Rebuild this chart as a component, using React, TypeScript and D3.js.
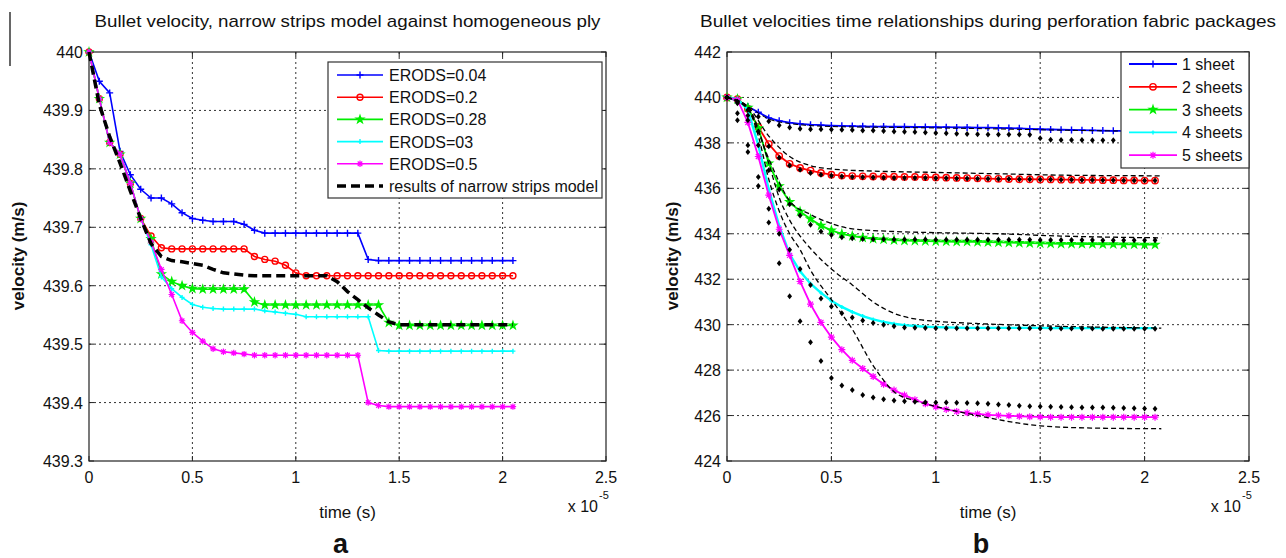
import React from "react";
import * as d3 from "d3";

const FONT = "Arial, 'Liberation Sans', Helvetica, sans-serif";

// shared time grid (x 10^-5 s)
const times = [0, 0.05, 0.1, 0.15, 0.2, 0.25, 0.3, 0.35, 0.4, 0.45, 0.5, 0.55, 0.6, 0.65, 0.7, 0.75, 0.8, 0.85, 0.9, 0.95, 1.0, 1.05, 1.1, 1.15, 1.2, 1.25, 1.3, 1.35, 1.4, 1.45, 1.5, 1.55, 1.6, 1.65, 1.7, 1.75, 1.8, 1.85, 1.9, 1.95, 2.0, 2.05];

const xTicks = [0, 0.5, 1, 1.5, 2, 2.5];
const xTickLabels = ["0", "0.5", "1", "1.5", "2", "2.5"];

// ---- panel a ----
const aYTicks = [439.3, 439.4, 439.5, 439.6, 439.7, 439.8, 439.9, 440];
const aYTickLabels = ["439.3", "439.4", "439.5", "439.6", "439.7", "439.8", "439.9", "440"];

const erods004 = [440, 439.95, 439.93, 439.83, 439.79, 439.765, 439.75, 439.75, 439.74, 439.725, 439.715, 439.712, 439.71, 439.71, 439.71, 439.705, 439.695, 439.69, 439.69, 439.69, 439.69, 439.69, 439.69, 439.69, 439.69, 439.69, 439.69, 439.645, 439.643, 439.643, 439.643, 439.643, 439.643, 439.643, 439.643, 439.643, 439.643, 439.643, 439.643, 439.643, 439.643, 439.643];
const erods02 = [440, 439.92, 439.845, 439.825, 439.775, 439.715, 439.685, 439.665, 439.663, 439.663, 439.663, 439.663, 439.663, 439.663, 439.663, 439.663, 439.65, 439.645, 439.642, 439.635, 439.622, 439.617, 439.617, 439.617, 439.617, 439.617, 439.617, 439.617, 439.617, 439.617, 439.617, 439.617, 439.617, 439.617, 439.617, 439.617, 439.617, 439.617, 439.617, 439.617, 439.617, 439.617];
const erods028 = [440, 439.92, 439.845, 439.825, 439.775, 439.715, 439.68, 439.62, 439.607, 439.6, 439.595, 439.594, 439.594, 439.594, 439.594, 439.594, 439.572, 439.567, 439.567, 439.567, 439.567, 439.567, 439.567, 439.567, 439.567, 439.567, 439.567, 439.567, 439.567, 439.537, 439.532, 439.532, 439.532, 439.532, 439.532, 439.532, 439.532, 439.532, 439.532, 439.532, 439.532, 439.532];
const erods03 = [440, 439.92, 439.845, 439.825, 439.775, 439.715, 439.67, 439.615, 439.595, 439.58, 439.568, 439.563, 439.561, 439.56, 439.56, 439.56, 439.56, 439.557, 439.555, 439.553, 439.551, 439.547, 439.547, 439.547, 439.547, 439.547, 439.547, 439.547, 439.489, 439.488, 439.488, 439.488, 439.488, 439.488, 439.488, 439.488, 439.488, 439.488, 439.488, 439.488, 439.488, 439.488];
const erods05 = [440, 439.92, 439.845, 439.825, 439.775, 439.715, 439.675, 439.628, 439.585, 439.54, 439.52, 439.505, 439.492, 439.487, 439.485, 439.483, 439.481, 439.481, 439.481, 439.481, 439.481, 439.481, 439.481, 439.481, 439.481, 439.481, 439.481, 439.4, 439.395, 439.393, 439.393, 439.393, 439.393, 439.393, 439.393, 439.393, 439.393, 439.393, 439.393, 439.393, 439.393, 439.393];
const narrowStrips = [440, 439.91, 439.855, 439.81, 439.762, 439.715, 439.672, 439.65, 439.643, 439.641, 439.638, 439.635, 439.628, 439.622, 439.62, 439.618, 439.617, 439.617, 439.617, 439.617, 439.617, 439.617, 439.617, 439.617, 439.607, 439.59, 439.576, 439.562, 439.55, 439.538, 439.533, 439.533, 439.533, 439.533, 439.533, 439.533, 439.533, 439.533, 439.533, 439.533, 439.533, 439.533];

// ---- panel b ----
const bYTicks = [424, 426, 428, 430, 432, 434, 436, 438, 440, 442];
const bYTickLabels = ["424", "426", "428", "430", "432", "434", "436", "438", "440", "442"];

const sheet1 = [440, 439.85, 439.6, 439.35, 439.1, 438.97, 438.89, 438.84, 438.8, 438.78, 438.76, 438.75, 438.74, 438.73, 438.72, 438.72, 438.71, 438.71, 438.7, 438.7, 438.69, 438.69, 438.68, 438.68, 438.67, 438.67, 438.66, 438.65, 438.64, 438.62, 438.6, 438.59, 438.58, 438.57, 438.56, 438.55, 438.54, 438.53, 438.53, 438.52, 438.52, 438.51];
const sheet2 = [440, 439.93, 439.5, 438.7, 437.95, 437.42, 437.08, 436.9, 436.78, 436.68, 436.6, 436.56, 436.54, 436.53, 436.52, 436.52, 436.51, 436.5, 436.5, 436.49, 436.48, 436.47, 436.46, 436.45, 436.44, 436.43, 436.42, 436.41, 436.4, 436.4, 436.39, 436.39, 436.38, 436.38, 436.37, 436.37, 436.36, 436.36, 436.35, 436.35, 436.34, 436.34];
const sheet3 = [440, 439.93, 439.55, 438.65, 437.1, 436.1, 435.4, 434.98, 434.65, 434.36, 434.15, 434.0, 433.9, 433.83, 433.78, 433.75, 433.72, 433.7, 433.69, 433.68, 433.67, 433.66, 433.65, 433.65, 433.64, 433.63, 433.62, 433.61, 433.6, 433.59, 433.58, 433.57, 433.56, 433.56, 433.55, 433.55, 433.54, 433.54, 433.53, 433.53, 433.52, 433.52];
const sheet4 = [440, 439.93, 439.45, 437.9, 435.95, 434.35, 433.1, 432.35, 431.8, 431.4, 431.05, 430.78, 430.56, 430.38, 430.23, 430.12, 430.04, 429.98, 429.94, 429.91, 429.89, 429.88, 429.87, 429.86, 429.86, 429.86, 429.86, 429.86, 429.86, 429.86, 429.86, 429.85, 429.85, 429.85, 429.85, 429.85, 429.85, 429.85, 429.85, 429.85, 429.85, 429.85];
const sheet5 = [440, 439.9, 438.9, 437.4, 435.7, 434.2, 433.05, 431.9, 430.9, 430.1, 429.45, 428.9, 428.43, 428.07, 427.72, 427.38, 427.12, 426.9, 426.7, 426.52, 426.38, 426.27, 426.18, 426.12, 426.07, 426.03, 426.01, 425.99, 425.97, 425.95, 425.94, 425.93, 425.93, 425.93, 425.93, 425.93, 425.93, 425.93, 425.93, 425.93, 425.93, 425.93];

// black diamond-marked model results
const dots1 = [440, 439.75, 439.45, 439.15, 438.95, 438.78, 438.68, 438.62, 438.6, 438.6, 438.59, 438.58, 438.57, 438.55, 438.54, 438.52, 438.5, 438.49, 438.48, 438.46, 438.44, 438.42, 438.4, 438.39, 438.38, 438.37, 438.37, 438.37, 438.37, 438.36, 438.2, 438.14, 438.13, 438.13, 438.13, 438.12, 438.12, 438.12, 438.12, 438.12, 438.12, 438.12];
const dots2 = [440, 439.8, 439.2, 438.5, 437.85, 437.35, 437.0, 436.82, 436.68, 436.6, 436.55, 436.52, 436.5, 436.49, 436.48, 436.47, 436.46, 436.46, 436.45, 436.45, 436.44, 436.44, 436.43, 436.43, 436.42, 436.42, 436.41, 436.41, 436.4, 436.4, 436.39, 436.39, 436.38, 436.38, 436.37, 436.37, 436.36, 436.36, 436.35, 436.35, 436.34, 436.34];
const dots3 = [440, 439.8, 439.0, 437.9, 436.8, 435.95, 435.3, 434.8, 434.4, 434.1, 433.95, 433.85, 433.8, 433.77, 433.76, 433.76, 433.75, 433.75, 433.75, 433.75, 433.74, 433.74, 433.74, 433.74, 433.74, 433.74, 433.74, 433.74, 433.74, 433.74, 433.73, 433.73, 433.73, 433.73, 433.73, 433.73, 433.72, 433.72, 433.72, 433.72, 433.72, 433.72];
const dots4 = [440, 439.3, 437.9, 436.5, 435.1, 434.0, 433.3, 432.45, 431.75, 431.15, 430.8, 430.5, 430.32, 430.18, 430.07, 430.0, 429.93, 429.88, 429.86, 429.85, 429.84, 429.84, 429.84, 429.84, 429.84, 429.84, 429.84, 429.84, 429.84, 429.84, 429.83, 429.83, 429.83, 429.83, 429.83, 429.83, 429.82, 429.82, 429.82, 429.82, 429.82, 429.82];
const dots5 = [440, 439.0, 437.6, 436.1, 434.5, 432.7, 431.25, 430.15, 429.23, 428.4, 427.65, 427.32, 427.12, 426.9, 426.8, 426.72, 426.66, 426.63, 426.61, 426.59, 426.58, 426.57, 426.56, 426.55, 426.54, 426.52, 426.49, 426.46, 426.43, 426.41, 426.4, 426.39, 426.38, 426.37, 426.36, 426.36, 426.35, 426.34, 426.33, 426.32, 426.31, 426.3];

// black dashed model results
const dash1Times = [0, 0.1, 0.2, 0.3, 0.5, 0.8, 1.2, 1.6, 2.08];
const dash1 = [440, 439.6, 439.05, 438.85, 438.72, 438.68, 438.63, 438.56, 438.5];
const dash2Times = [0, 0.1, 0.2, 0.3, 0.4, 0.5, 0.7, 1.0, 1.3, 1.6, 2.08];
const dash2 = [440, 439.6, 438.3, 437.4, 437.0, 436.85, 436.76, 436.7, 436.64, 436.58, 436.55];
const dash3Times = [0, 0.1, 0.2, 0.3, 0.4, 0.5, 0.6, 0.8, 1.0, 1.3, 1.6, 2.08];
const dash3 = [440, 439.5, 437.3, 435.45, 434.85, 434.45, 434.22, 434.1, 434.05, 434.0, 433.9, 433.82];
const dash4Times = [0, 0.1, 0.15, 0.2, 0.25, 0.3, 0.35, 0.4, 0.5, 0.6, 0.7, 0.8, 0.9, 1.0, 1.2, 1.5, 2.08];
const dash4 = [440, 439.6, 438.6, 437.1, 435.6, 434.6, 433.9, 433.35, 432.45, 431.75, 431.0, 430.5, 430.25, 430.15, 430.05, 429.95, 429.85];
const dash5Times = [0, 0.1, 0.15, 0.2, 0.25, 0.3, 0.35, 0.4, 0.5, 0.6, 0.7, 0.8, 0.9, 1.0, 1.2, 1.5, 1.75, 2.08];
const dash5 = [440, 439.5, 438.3, 436.4, 435.0, 434.0, 433.3, 432.4, 431.1, 429.8, 428.2, 427.05, 426.65, 426.4, 426.0, 425.55, 425.45, 425.42];

type Series = {
  times: number[];
  values: number[];
  color: string;
  width: number;
  dash?: string;
  marker?: string;
  size?: number;
  noLine?: boolean;
  smooth?: boolean;
};

function Marker({ type, x, y, color, s }: { type: string; x: number; y: number; color: string; s: number }) {
  if (type === "plus")
    return <path d={`M${x - s},${y}H${x + s}M${x},${y - s}V${y + s}`} stroke={color} strokeWidth={1.4} />;
  if (type === "circle") return <circle cx={x} cy={y} r={s} fill="none" stroke={color} strokeWidth={1.4} />;
  if (type === "star") {
    const star = d3.symbol().type(d3.symbolStar).size(s * s * 4.5)();
    return (
      <g transform={`translate(${x},${y})`}>
        <path d={star || ""} fill={color} />
        <circle r={s * 0.75} fill={color} />
      </g>
    );
  }
  if (type === "asterisk") {
    const k = s * 0.72;
    return (
      <path
        d={`M${x - s},${y}H${x + s}M${x},${y - s}V${y + s}M${x - k},${y - k}L${x + k},${y + k}M${x - k},${y + k}L${x + k},${y - k}`}
        stroke={color}
        strokeWidth={1.2}
      />
    );
  }
  if (type === "diamond")
    return <path d={`M${x},${y - s}L${x + s * 0.8},${y}L${x},${y + s}L${x - s * 0.8},${y}Z`} fill={color} />;
  return null;
}

type LegendItem = { label: string; color: string; marker?: string; size?: number; width: number; dash?: string };

function Panel(props: {
  x0: number;
  x1: number;
  yDomain: [number, number];
  yTicks: number[];
  yTickLabels: string[];
  series: Series[];
  legend: LegendItem[];
  legendBox: { x: number; y: number; w: number; h: number; rowY: number; step: number; lineX0: number; lineX1: number; textX: number };
  title: string;
  titleLength: number;
  yLabelX: number;
  letter: string;
}) {
  const top = 52;
  const bottom = 461;
  const { x0, x1, legendBox: lb } = props;
  const xs = d3.scaleLinear().domain([0, 2.5]).range([x0, x1]);
  const ys = d3.scaleLinear().domain(props.yDomain).range([bottom, top]);
  const cx = (x0 + x1) / 2;

  return (
    <g>
      {/* grid */}
      {xTicks.slice(1, -1).map((t) => (
        <line key={"gx" + t} x1={xs(t)} x2={xs(t)} y1={top} y2={bottom} stroke="#333" strokeWidth={1} strokeDasharray="2,3" />
      ))}
      {props.yTicks.slice(1, -1).map((v) => (
        <line key={"gy" + v} x1={x0} x2={x1} y1={ys(v)} y2={ys(v)} stroke="#333" strokeWidth={1} strokeDasharray="2,3" />
      ))}
      {/* box */}
      <rect x={x0} y={top} width={x1 - x0} height={bottom - top} fill="none" stroke="#222" strokeWidth={1.2} />
      {xTicks.map((t) => (
        <g key={"tx" + t}>
          <line x1={xs(t)} x2={xs(t)} y1={bottom} y2={bottom - 5} stroke="#222" />
          <line x1={xs(t)} x2={xs(t)} y1={top} y2={top + 5} stroke="#222" />
        </g>
      ))}
      {props.yTicks.map((v) => (
        <g key={"ty" + v}>
          <line x1={x0} x2={x0 + 5} y1={ys(v)} y2={ys(v)} stroke="#222" />
          <line x1={x1} x2={x1 - 5} y1={ys(v)} y2={ys(v)} stroke="#222" />
        </g>
      ))}
      {/* tick labels */}
      {xTicks.map((t, i) => (
        <text key={"lx" + t} x={xs(t)} y={bottom + 22} textAnchor="middle" fontSize={16} fontFamily={FONT} fill="#111">
          {xTickLabels[i]}
        </text>
      ))}
      {props.yTicks.map((v, i) => (
        <text key={"ly" + v} x={x0 - 6} y={ys(v) + 6} textAnchor="end" fontSize={16} fontFamily={FONT} fill="#111">
          {props.yTickLabels[i]}
        </text>
      ))}
      <text x={x1 - 8} y={512} textAnchor="end" fontSize={16} fontFamily={FONT} fill="#111">x 10</text>
      <text x={x1 - 7} y={499} fontSize={11} fontFamily={FONT} fill="#111">-5</text>
      <text x={cx} y={518} textAnchor="middle" fontSize={17} fontFamily={FONT} fill="#111">time (s)</text>
      <text
        transform={`translate(${props.yLabelX},256) rotate(-90)`}
        textAnchor="middle"
        dominantBaseline="middle"
        fontSize={17}
        fontWeight="bold"
        fontFamily={FONT}
        fill="#111"
      >
        velocity (m/s)
      </text>
      <text
        x={cx}
        y={27}
        textAnchor="middle"
        fontSize={17}
        fontFamily={FONT}
        fill="#111"
        textLength={props.titleLength}
        lengthAdjust="spacingAndGlyphs"
      >
        {props.title}
      </text>
      <text x={cx - 7} y={553} textAnchor="middle" fontSize={27} fontWeight="bold" fontFamily={FONT} fill="#111">
        {props.letter}
      </text>

      {/* series */}
      {props.series.map((s, si) => {
        const line = d3
          .line<number>()
          .x((_, i) => xs(s.times[i]))
          .y((v) => ys(v))
          .curve(s.smooth ? d3.curveMonotoneX : d3.curveLinear);
        return (
          <g key={"s" + si}>
            {!s.noLine && (
              <path
                d={line(s.values) || ""}
                fill="none"
                stroke={s.color}
                strokeWidth={s.width}
                strokeDasharray={s.dash}
              />
            )}
            {s.marker &&
              s.values.map((v, i) => (
                <Marker key={i} type={s.marker!} x={xs(s.times[i])} y={ys(v)} color={s.color} s={s.size || 3} />
              ))}
          </g>
        );
      })}

      {/* legend */}
      <rect x={lb.x} y={lb.y} width={lb.w} height={lb.h} fill="#fff" stroke="#333" strokeWidth={1.2} />
      {props.legend.map((it, i) => {
        const y = lb.rowY + i * lb.step;
        const mx = (lb.lineX0 + lb.lineX1) / 2;
        return (
          <g key={"lg" + i}>
            <line x1={lb.lineX0} x2={lb.lineX1} y1={y} y2={y} stroke={it.color} strokeWidth={it.width} strokeDasharray={it.dash} />
            {it.marker && <Marker type={it.marker} x={mx} y={y} color={it.color} s={it.size || 3} />}
            <text x={lb.textX} y={y + 6} fontSize={16} fontFamily={FONT} fill="#111">
              {it.label}
            </text>
          </g>
        );
      })}
    </g>
  );
}

export default function App() {
  const seriesA: Series[] = [
    { times, values: erods004, color: "#0000ff", width: 1.6, marker: "plus", size: 3.5 },
    { times, values: erods02, color: "#ff0000", width: 1.6, marker: "circle", size: 3 },
    { times, values: erods028, color: "#00ee00", width: 1.6, marker: "star", size: 3 },
    { times, values: erods03, color: "#00ffff", width: 1.6, marker: "plus", size: 2.5 },
    { times, values: erods05, color: "#ff00ff", width: 1.6, marker: "asterisk", size: 3.2 },
    { times, values: narrowStrips, color: "#000", width: 3.5, dash: "9,5" },
  ];
  const legendA: LegendItem[] = [
    { label: "ERODS=0.04", color: "#0000ff", width: 1.6, marker: "plus", size: 3.5 },
    { label: "ERODS=0.2", color: "#ff0000", width: 1.6, marker: "circle", size: 3 },
    { label: "ERODS=0.28", color: "#00ee00", width: 1.6, marker: "star", size: 3 },
    { label: "ERODS=03", color: "#00ffff", width: 1.6, marker: "plus", size: 2.5 },
    { label: "ERODS=0.5", color: "#ff00ff", width: 1.6, marker: "asterisk", size: 3.2 },
    { label: "results of narrow strips model", color: "#000", width: 3.5, dash: "9,5" },
  ];

  const seriesB: Series[] = [
    { times, values: sheet1, color: "#0000ff", width: 1.8, marker: "plus", size: 3.5 },
    { times, values: sheet2, color: "#ff0000", width: 1.8, marker: "circle", size: 3.2 },
    { times, values: sheet3, color: "#00ee00", width: 1.8, marker: "star", size: 3 },
    { times, values: sheet4, color: "#00ffff", width: 2.4, marker: "plus", size: 2 },
    { times, values: sheet5, color: "#ff00ff", width: 1.8, marker: "asterisk", size: 3.5 },
    { times: dash1Times, values: dash1, color: "#000", width: 1, dash: "5,3", smooth: true },
    { times: dash2Times, values: dash2, color: "#000", width: 1.3, dash: "5,3", smooth: true },
    { times: dash3Times, values: dash3, color: "#000", width: 1.3, dash: "5,3", smooth: true },
    { times: dash4Times, values: dash4, color: "#000", width: 1.3, dash: "5,3", smooth: true },
    { times: dash5Times, values: dash5, color: "#000", width: 1.3, dash: "5,3", smooth: true },
    { times, values: dots1, color: "#000", width: 1, noLine: true, marker: "diamond", size: 3 },
    { times, values: dots2, color: "#000", width: 1, noLine: true, marker: "diamond", size: 3 },
    { times, values: dots3, color: "#000", width: 1, noLine: true, marker: "diamond", size: 3 },
    { times, values: dots4, color: "#000", width: 1, noLine: true, marker: "diamond", size: 3 },
    { times, values: dots5, color: "#000", width: 1, noLine: true, marker: "diamond", size: 3 },
  ];
  const legendB: LegendItem[] = [
    { label: "1 sheet", color: "#0000ff", width: 1.8, marker: "plus", size: 3.5 },
    { label: "2 sheets", color: "#ff0000", width: 1.8, marker: "circle", size: 3.2 },
    { label: "3 sheets", color: "#00ee00", width: 1.8, marker: "star", size: 3 },
    { label: "4 sheets", color: "#00ffff", width: 1.8, marker: "plus", size: 2 },
    { label: "5 sheets", color: "#ff00ff", width: 1.8, marker: "asterisk", size: 3.5 },
  ];

  return (
    <svg width={1286} height={558} style={{ position: "absolute", left: 0, top: 0, background: "#fff" }}>
      <rect width={1286} height={558} fill="#fff" />
      <line x1={10} x2={10} y1={12} y2={66} stroke="#000" strokeWidth={1.2} />
      <Panel
        x0={89}
        x1={606}
        yDomain={[439.3, 440]}
        yTicks={aYTicks}
        yTickLabels={aYTickLabels}
        series={seriesA}
        legend={legendA}
        legendBox={{ x: 328, y: 62, w: 274, h: 136, rowY: 75, step: 22.2, lineX0: 337, lineX1: 383, textX: 389 }}
        title="Bullet velocity, narrow strips model against homogeneous ply"
        titleLength={506}
        yLabelX={20}
        letter="a"
      />
      <Panel
        x0={727}
        x1={1249}
        yDomain={[424, 442]}
        yTicks={bYTicks}
        yTickLabels={bYTickLabels}
        series={seriesB}
        legend={legendB}
        legendBox={{ x: 1121, y: 52, w: 128, h: 116, rowY: 64, step: 22.8, lineX0: 1129, lineX1: 1177, textX: 1182 }}
        title="Bullet velocities time relationships during perforation fabric packages"
        titleLength={576}
        yLabelX={674}
        letter="b"
      />
    </svg>
  );
}
